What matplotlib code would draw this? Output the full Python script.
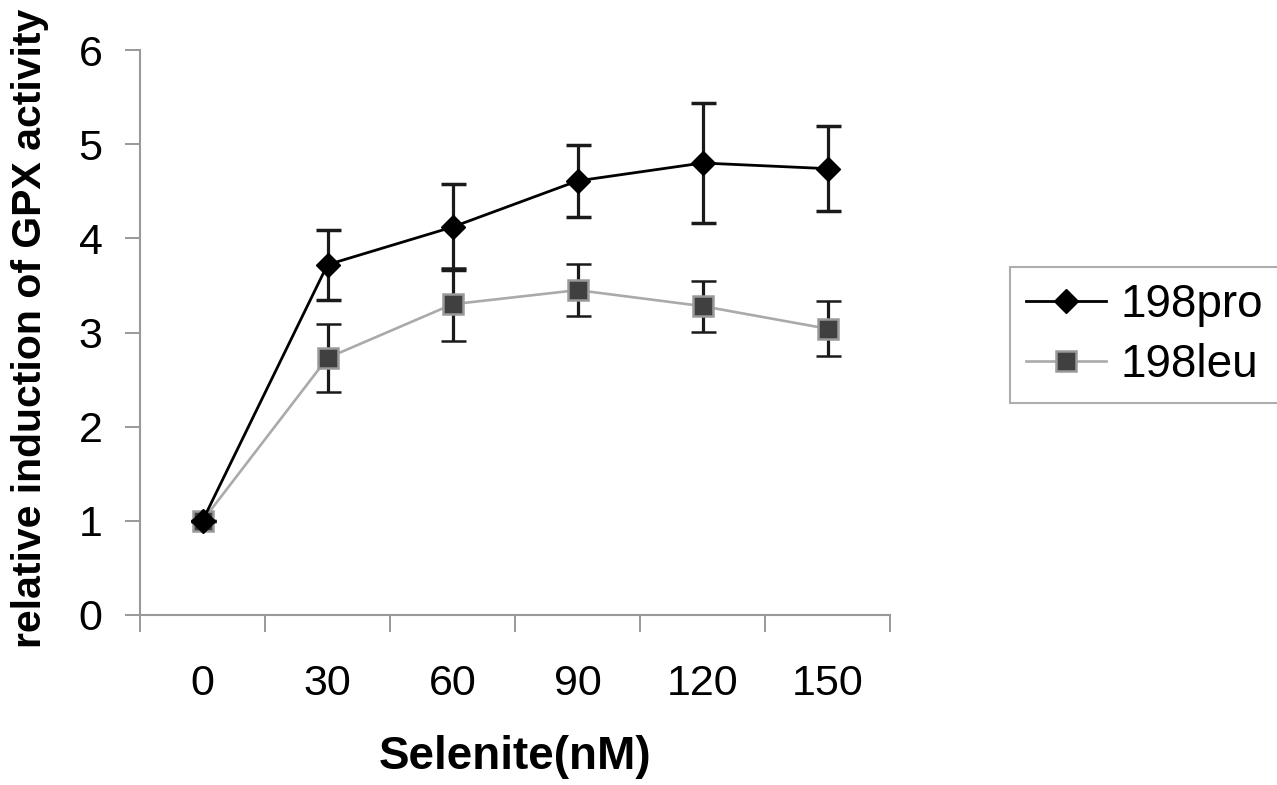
import matplotlib
matplotlib.use('Agg')
from matplotlib import pyplot as plt
import numpy as np

plt.rcParams['font.family'] = ['Liberation Sans', 'DejaVu Sans']

# Selenite concentrations (nM) shown as categories
doses = ['0', '30', '60', '90', '120', '150']

# relative induction of GPX activity, mean and error
pro_mean = [1.0, 3.72, 4.12, 4.61, 4.80, 4.74]
pro_err = [0.0, 0.37, 0.46, 0.38, 0.64, 0.45]
leu_mean = [1.0, 2.73, 3.30, 3.45, 3.28, 3.04]
leu_err = [0.0, 0.36, 0.39, 0.28, 0.27, 0.29]

y_ticks = [0, 1, 2, 3, 4, 5, 6]

fig = plt.figure(figsize=(12.77, 7.85), dpi=100)
ax = fig.add_axes([140 / 1277, 170 / 785, 750 / 1277, 565 / 785])

x = np.arange(len(doses))

leu = ax.errorbar(x, leu_mean, yerr=leu_err, color='#aaaaaa', lw=1.9,
                  marker='s', ms=15, mfc='#404040', mec='#9a9a9a', mew=1.8,
                  ecolor='#1a1a1a', elinewidth=2.3, capsize=9, capthick=2.5,
                  zorder=2)
pro = ax.errorbar(x, pro_mean, yerr=pro_err, color='#000000', lw=2.0,
                  marker='D', ms=12, mfc='#000000', mec='#000000',
                  ecolor='#1a1a1a', elinewidth=2.3, capsize=9, capthick=2.5,
                  zorder=3)

ax.set_xlim(-0.5, len(doses) - 0.5)
ax.set_ylim(0, 6)
ax.set_yticks(y_ticks)
ax.set_xticks(x)
ax.set_xticklabels(doses)
ax.set_xticks(np.arange(len(doses) + 1) - 0.5, minor=True)

for side in ['top', 'right']:
    ax.spines[side].set_visible(False)
for side in ['left', 'bottom']:
    ax.spines[side].set_color('#999999')
    ax.spines[side].set_linewidth(1.5)

ax.tick_params(axis='y', direction='out', length=11, width=1.4,
               color='#999999', labelsize=31, pad=16)
ax.tick_params(axis='x', which='major', length=0, labelsize=31, pad=35)
ax.tick_params(axis='x', which='minor', direction='out', length=12,
               width=1.4, color='#999999')

fig.text(515 / 1277, 1 - 757 / 785, 'Selenite(nM)', fontsize=33,
         fontweight='bold', ha='center', va='center')
fig.text(30 / 1277, 1 - 328 / 785, 'relative induction of GPX activity',
         fontsize=29.5, fontweight='bold', rotation=90,
         ha='center', va='center')

# legend shows only line + marker, not the error bars
leg = fig.legend([pro.lines[0], leu.lines[0]], ['198pro', '198leu'],
                 loc='upper left',
                 bbox_to_anchor=(1010 / 1277, 1 - 267 / 785),
                 borderaxespad=0, fontsize=33, frameon=True,
                 fancybox=False, handlelength=1.75, handletextpad=0.3,
                 borderpad=0.35, labelspacing=0.35)
leg.get_frame().set_edgecolor('#999999')
leg.get_frame().set_linewidth(1.5)

fig.savefig('out.png', dpi=100)
